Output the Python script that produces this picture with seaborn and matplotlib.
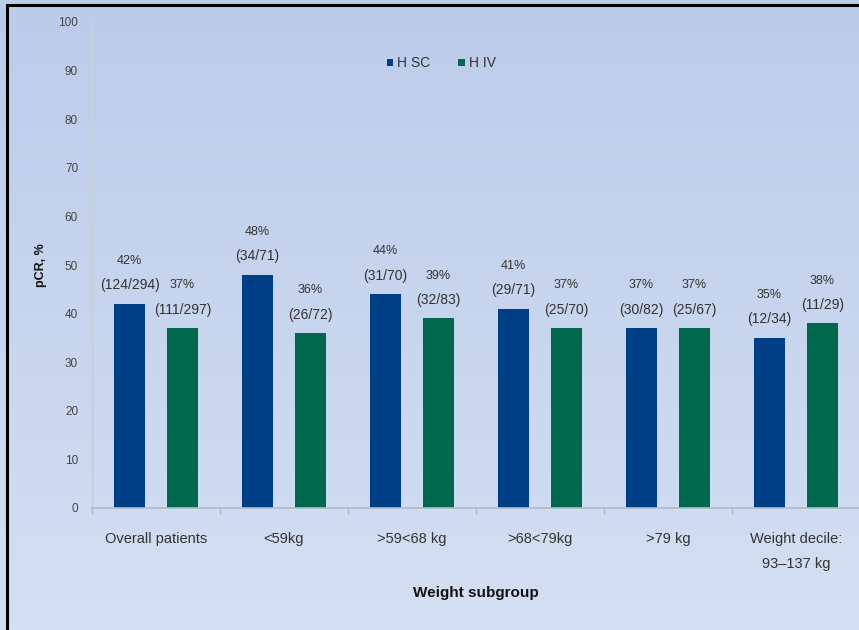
import numpy as np
import pandas as pd
import matplotlib
matplotlib.use("Agg")
import matplotlib.pyplot as plt
from matplotlib.patches import Rectangle
import seaborn as sns

# Weight subgroups and pCR rates for the two formulations
subgroups = ["Overall patients", "<59kg", ">59<68 kg", ">68<79kg", ">79 kg",
             "Weight decile:\n93\u2013137 kg"]
arms = ["H SC", "H IV"]
pcr_sc = [42, 48, 44, 41, 37, 35]
pcr_iv = [37, 36, 39, 37, 37, 38]
frac_sc = ["(124/294)", "(34/71)", "(31/70)", "(29/71)", "(30/82)", "(12/34)"]
frac_iv = ["(111/297)", "(26/72)", "(32/83)", "(25/70)", "(25/67)", "(11/29)"]
yticks = [0, 10, 20, 30, 40, 50, 60, 70, 80, 90, 100]

df = pd.DataFrame({
    "subgroup": subgroups * 2,
    "arm": [arms[0]] * len(subgroups) + [arms[1]] * len(subgroups),
    "pcr": pcr_sc + pcr_iv,
    "frac": frac_sc + frac_iv,
})

sns.set_theme(style="white")
plt.rcParams["font.family"] = ["Liberation Sans Narrow", "Liberation Sans",
                               "DejaVu Sans"]

W, H = 859, 630
fig = plt.figure(figsize=(W / 100, H / 100), dpi=100)

# Soft vertical gradient behind everything
bg = fig.add_axes([0, 0, 1, 1], zorder=-10)
top_c = np.array([187, 203, 234]) / 255
bot_c = np.array([212, 223, 242]) / 255
t = np.linspace(0, 1, 256)[:, None, None]
grad = top_c * (1 - t) + bot_c * t
bg.imshow(np.repeat(grad, 2, axis=1), aspect="auto", extent=[0, 1, 0, 1])
bg.set_axis_off()

# Black frame around the slide panel
fig.patches.append(Rectangle((7 / W, -0.05), 1.2, 1 - 5 / H + 0.05,
                             transform=fig.transFigure, fill=False,
                             edgecolor="black", linewidth=2.2, zorder=5))

ax = fig.add_axes([92 / W, 1 - 508 / H, 768 / W, (508 - 22) / H])
ax.set_facecolor("none")

palette = {"H SC": "#003E86", "H IV": "#00684C"}
sns.barplot(data=df, x="subgroup", y="pcr", hue="arm", order=subgroups,
            hue_order=arms, palette=palette, width=0.828, gap=0.415,
            saturation=1, linewidth=0, ax=ax, legend=True)

ax.set_ylim(0, 100)
ax.set_xlim(-0.5, len(subgroups) - 0.5)
ax.set_yticks(yticks)
ax.set_yticklabels([str(v) for v in yticks], fontsize=8.5, color="#444444")
ax.set_xticks(range(len(subgroups)))
ax.set_xticklabels(subgroups, fontsize=10.5, color="#333333", linespacing=2.0)
ax.tick_params(axis="y", length=3, color="#b0b8c8", pad=7)
ax.tick_params(axis="x", length=0, pad=17)
for b in np.arange(-0.5, len(subgroups), 1.0):
    ax.plot([b, b], [0, -1.2], color="#b0b8c8", lw=1, clip_on=False)

for side in ["top", "right"]:
    ax.spines[side].set_visible(False)
ax.spines["left"].set_color("#c8d0dc")
ax.spines["left"].set_linewidth(2)
ax.spines["bottom"].set_color("#b0b8c8")
ax.spines["bottom"].set_linewidth(1.2)

ax.set_ylabel("pCR, %", fontsize=9, fontweight="bold", color="#111111")
ax.yaxis.set_label_coords(-0.058, 0.50)
ax.set_xlabel("Weight subgroup", fontsize=11, fontweight="bold",
              color="#111111", va="center")
ax.xaxis.set_label_coords(0.5, -0.175)

# Value labels: percentage with counts below
for cont, arm in zip(ax.containers, arms):
    sub = df[df["arm"] == arm]
    for bar, val, frac in zip(cont, sub["pcr"], sub["frac"]):
        cx = bar.get_x() + bar.get_width() / 2
        ax.text(cx, val + 3.8, frac, ha="center", va="center",
                fontsize=10, color="#333333")
        ax.text(cx, val + 8.8, f"{val}%", ha="center", va="center",
                fontsize=9, color="#333333")

leg = ax.legend(loc="upper center", bbox_to_anchor=(0.455, 0.955), ncol=2,
                frameon=False, fontsize=10, handlelength=0.45,
                handleheight=0.45, handletextpad=0.3, columnspacing=2.0)
for txt in leg.get_texts():
    txt.set_color("#333333")

fig.savefig("out.png", dpi=100)
